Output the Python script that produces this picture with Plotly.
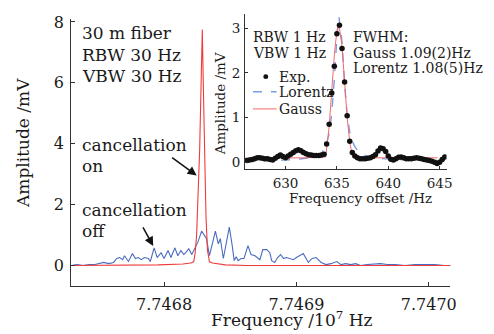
import plotly.graph_objects as go

# The page body has an 8 px margin, so the figure is drawn 8 px right and down.
OFF = 8
W, H = 494 - OFF, 334 - OFF

# ---------------- main panel data (x: frequency offset in Hz from 7.7468e7 Hz) ----------------
blue_off_hz = [-702, -657, -612, -567, -522, -493, -455, -418, -381, -358, -336, -313, -299, -269, -239,
               -216, -194, -172, -149, -119, -104, -75, -52, -22, 0, 30, 52, 82, 104, 127,
               149, 164, 187, 209, 231, 254, 284, 306, 321, 343, 366, 388, 410, 425, 448,
               470, 493, 515, 530, 545, 560, 582, 604, 634, 657, 687, 709, 724, 746, 776,
               799, 813, 836, 858, 881, 903, 925, 948, 978, 1000, 1030, 1052, 1090, 1119, 1149,
               1187, 1224, 1261, 1306, 1336, 1373, 1410, 1448, 1485, 1537, 1597, 1634, 1687, 1746, 1821,
               1896, 1970, 2045, 2119, 2164]
blue_mv = [0, 0.03, 0, 0.03, 0.03, 0.06, 0.1, 0.06, 0.1, 0.23, 0.26, 0.19, 0.32, 0.13, 0.39,
           0.23, 0.26, 0.19, 0.26, 0.23, 0.13, 0.58, 0.26, 0.42, 0.23, 0.49, 0.26, 0.58, 0.32, 0.49,
           0.36, 0.42, 0.55, 0.36, 0.55, 0.75, 1.13, 0.97, 0.88, 0.32, 0.71, 1.13, 0.71, 0.88, 0.23,
           0.75, 1.26, 0.65, 0.16, 0.29, 0.16, 0.23, 0.23, 0.65, 0.36, 0.32, 0.23, 0.19, 0.52, 0.52,
           0.42, 0.16, 0.1, 0.26, 0.36, 0.23, 0.26, 0.23, 0.19, 0.26, 0.32, 0.39, 0.1, 0.23, 0.26,
           0.1, 0.03, 0.06, 0.13, 0.03, 0.06, 0.03, 0.06, 0, 0.03, 0.06, 0.06, 0.03, 0.03, 0,
           0.03, 0.03, 0.03, 0, 0]

red_off_hz = [-702, -343, -45, 142, 201, 224, 235, 246, 257, 269, 280, 289, 298, 308, 317, 328,
              343, 366, 403, 463, 627, 1000, 2164]
red_mv = [0.0, 0.0, 0.02, 0.05, 0.08, 0.12, 0.4, 1.0, 2.2, 3.8, 6.0, 7.75, 5.6, 3.2, 1.6, 0.5,
          0.12, 0.08, 0.05, 0.02, 0.0, 0.0, 0.0]

main_xtick_vals = [0, 1000, 2000]
main_xtick_text = ["7.7468", "7.7469", "7.7470"]
main_ytick_vals = [0, 2, 4, 6, 8]

# ---------------- inset data (frequency offset / Hz) ----------------
exp_hz = [626.25, 626.5, 626.75, 627.0, 627.25, 627.5, 627.75, 628.0, 628.25, 628.5, 628.75, 629.0,
          629.25, 629.5, 629.75, 630.0, 630.25, 630.5, 630.75, 631.0, 631.25, 631.5, 631.75, 632.0,
          632.25, 632.5, 632.75, 633.0, 633.25, 633.5, 633.75, 634.0, 634.25, 634.5, 634.75, 635.0,
          635.25, 635.5, 635.75, 636.0, 636.25, 636.5, 636.75, 637.0, 637.25, 637.5, 637.75, 638.0,
          638.25, 638.5, 638.75, 639.0, 639.25, 639.5, 639.75, 640.0, 640.25, 640.5, 640.75, 641.0,
          641.25, 641.5, 641.75, 642.0, 642.25, 642.5, 642.75, 643.0, 643.25, 643.5, 643.75, 644.0,
          644.25, 644.5, 644.75, 645.0, 645.25, 645.5]
exp_mv = [0.04, 0.05, 0.06, 0.08, 0.1, 0.1, 0.09, 0.08, 0.08, 0.06, 0.05, 0.09,
          0.13, 0.16, 0.13, 0.1, 0.14, 0.18, 0.22, 0.26, 0.28, 0.26, 0.22, 0.19,
          0.17, 0.16, 0.15, 0.15, 0.15, 0.16, 0.18, 0.41, 0.85, 1.55, 2.15, 2.88,
          3.07, 2.55, 1.8, 1.04, 0.47, 0.22, 0.14, 0.1, 0.08, 0.08, 0.08, 0.09,
          0.1, 0.13, 0.17, 0.25, 0.32, 0.3, 0.24, 0.14, 0.07, 0.05, 0.08, 0.11,
          0.12, 0.1, 0.08, 0.08, 0.08, 0.09, 0.1, 0.09, 0.08, 0.06, 0.05, 0.04,
          0.02, 0.0, -0.03, 0.0, 0.06, 0.12]

gauss_hz = [626.06, 628.0, 630.0, 632.0, 633.9, 634.25, 634.5, 634.75, 635.0, 635.2, 635.5, 635.75,
            636.0, 636.25, 636.5, 636.7, 640.0, 644.8]
gauss_mv = [0.09, 0.09, 0.09, 0.1, 0.12, 0.8, 1.6, 2.4, 2.95, 3.1, 2.6, 1.8,
            1.0, 0.45, 0.15, 0.1, 0.1, 0.1]

lor_hz = [626.06, 628, 630, 631, 632, 633, 633.5, 634.0, 634.25, 634.5, 634.75, 635.0, 635.2, 635.5,
          635.75, 636.0, 636.25, 636.5, 636.75, 637.0, 637.5, 638, 639, 640, 642, 644, 644.8]
lor_mv = [0.02, 0.03, 0.05, 0.06, 0.09, 0.13, 0.19, 0.42, 0.65, 1.1, 1.85, 2.8, 3.25, 2.7,
          1.75, 1.05, 0.68, 0.47, 0.35, 0.27, 0.18, 0.13, 0.09, 0.07, 0.05, 0.04, 0.04]

inset_xtick_vals = [630, 635, 640, 645]
inset_ytick_vals = [0, 1, 2, 3]

FONT = "DejaVu Serif"
TXT = "#1a1a1a"
AX = "#333333"


def px(x):
    return (x - OFF) / W


def py(y):
    return 1 - (y - OFF) / H


fig = go.Figure()
fig.add_trace(go.Scatter(x=blue_off_hz, y=blue_mv, mode="lines",
                         line=dict(color="#4a6cc0", width=1.1), xaxis="x", yaxis="y"))
fig.add_trace(go.Scatter(x=red_off_hz, y=red_mv, mode="lines",
                         line=dict(color="#f03a3a", width=1.1), xaxis="x", yaxis="y"))

fig.add_trace(go.Scatter(x=lor_hz, y=lor_mv, mode="lines",
                         line=dict(color="#7d9be0", width=1.4, dash="dash"), xaxis="x2", yaxis="y2"))
fig.add_trace(go.Scatter(x=gauss_hz, y=gauss_mv, mode="lines",
                         line=dict(color="#f26a6a", width=1), xaxis="x2", yaxis="y2"))
fig.add_trace(go.Scatter(x=exp_hz, y=exp_mv, mode="markers",
                         marker=dict(color="#111111", size=5.5), xaxis="x2", yaxis="y2"))

axcommon = dict(showline=True, linecolor=AX, linewidth=1, ticks="inside", tickcolor=AX,
                showgrid=False, zeroline=False, mirror=False, ticklabeloverflow="allow")

fig.update_layout(
    width=W, height=H, margin=dict(l=0, r=0, t=0, b=0),
    paper_bgcolor="white", plot_bgcolor="rgba(0,0,0,0)", showlegend=False,
    font=dict(family=FONT, color=TXT),
    xaxis=dict(domain=[px(72), px(456)], range=[-701.5, 2164], tickvals=main_xtick_vals,
               ticktext=main_xtick_text, ticklen=4, tickfont=dict(size=16, family=FONT, color=TXT),
               ticklabelstandoff=4, anchor="y", **axcommon),
    yaxis=dict(domain=[py(286), py(13)], range=[-0.675, 8.1], tickvals=main_ytick_vals,
               ticklen=4, tickfont=dict(size=16, family=FONT, color=TXT), ticklabelstandoff=3,
               anchor="x", **axcommon),
    xaxis2=dict(domain=[px(248), px(452)], range=[626.06, 645.67], tickvals=inset_xtick_vals,
                ticklen=3, tickfont=dict(size=13.5, family=FONT, color=TXT), ticklabelstandoff=2,
                anchor="y2", **axcommon),
    yaxis2=dict(domain=[py(166.5), py(8)], range=[-0.153, 3.32], tickvals=inset_ytick_vals,
                ticklen=3, tickfont=dict(size=13.5, family=FONT, color=TXT), ticklabelstandoff=1,
                anchor="x2", **axcommon),
)

ann = []


def text(x, y, s, size, xanchor="left", angle=0):
    ann.append(dict(x=px(x), y=py(y), xref="paper", yref="paper", text=s, showarrow=False,
                    xanchor=xanchor, yanchor="middle", textangle=angle,
                    font=dict(size=size, family=FONT, color=TXT)))


# main panel texts
text(81, 27.5, "30 m fiber", 17)
text(81, 49.5, "RBW 30 Hz", 17)
text(81, 71, "VBW 30 Hz", 17)
text(81, 141.5, "cancellation", 17)
text(81, 163, "on", 17)
text(81, 208.5, "cancellation", 17)
text(81, 230, "off", 17)
text(296, 320, "Frequency /10<sup>7</sup> Hz", 17, xanchor="center")
text(23, 140, "Amplitude /mV", 17, xanchor="center", angle=-90)

# inset texts
text(254, 32, "RBW 1 Hz", 14)
text(254, 47.5, "VBW 1 Hz", 14)
text(355, 32, "FWHM:", 14)
text(355, 47.5, "Gauss 1.09(2)Hz", 14)
text(355, 63, "Lorentz 1.08(5)Hz", 14)
text(280, 72, "Exp.", 14)
text(280, 87.5, "Lorentz", 14)
text(280, 105, "Gauss", 14)
text(365, 196, "Frequency offset /Hz", 13.5, xanchor="center")
text(223, 100, "Amplitude /mV", 13.5, xanchor="center", angle=-90)

# arrows
for (tx, ty, hx, hy) in [(173, 154, 199, 173), (144, 225, 155, 245)]:
    ann.append(dict(x=px(hx), y=py(hy), xref="paper", yref="paper", ax=tx - hx, ay=ty - hy,
                    axref="pixel", ayref="pixel", text="", showarrow=True, arrowhead=2,
                    arrowsize=1.2, arrowwidth=1.5, arrowcolor="#111111"))

fig.update_layout(annotations=ann)

# legend glyphs of the inset
shapes = [
    dict(type="circle", xref="paper", yref="paper", x0=px(266.5), x1=px(271.5), y0=py(74.5), y1=py(69.5),
         fillcolor="#111111", line=dict(width=0)),
    dict(type="line", xref="paper", yref="paper", x0=px(256), x1=px(280), y0=py(87.5), y1=py(87.5),
         line=dict(color="#7d9be0", width=1.4, dash="dash")),
    dict(type="line", xref="paper", yref="paper", x0=px(256), x1=px(280), y0=py(105), y1=py(105),
         line=dict(color="#f26a6a", width=1)),
]
fig.update_layout(shapes=shapes)

fig.write_html("out.html")
